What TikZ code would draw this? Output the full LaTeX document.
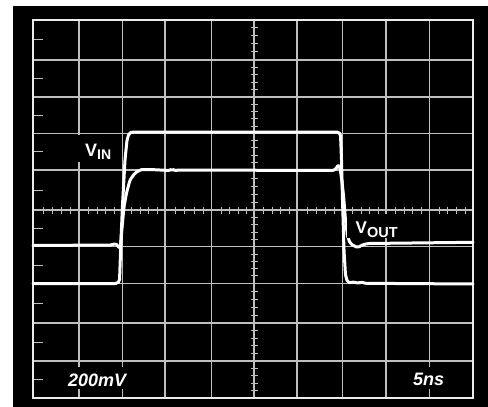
\documentclass[tikz,border=0pt]{standalone}
\usepackage{fontspec}
\setmainfont{Liberation Sans}
\definecolor{gridc}{RGB}{190,190,190}
\definecolor{framec}{RGB}{235,235,235}
\begin{document}
\begin{tikzpicture}[x=1pt,y=-1pt,
  gridline/.style={draw=gridc, line width=1.1pt},
  tickline/.style={draw=gridc, line width=1pt},
  frameline/.style={draw=framec, line width=2pt},
  trace/.style={draw=white, line width=3pt, line cap=round, line join=round, rounded corners=1.5pt},
  labelbox/.style={fill=black, inner sep=0pt, anchor=north west},
  lbl/.style={text=white, inner sep=0pt, anchor=base west, font=\bfseries}]
\useasboundingbox (0,0) rectangle (488,407);
\fill[white] (0,0) rectangle (488,407);
\fill[black] (12.7,6) rectangle (488,407);
% grid
\foreach \x in {79,122.3,165,211.7,297,342.7,386,429.3}
  \draw[gridline] (\x,19.5) -- (\x,398);
\foreach \y in {60,97,133.3,170,246.7,283.3,323,361}
  \draw[gridline] (33,\y) -- (473,\y);
\draw[gridline] (254,19.5) -- (254,398);
\draw[gridline] (33,210) -- (473,210);
% minor ticks on centre axes
\foreach \a/\b in {19.5/60,60/97,97/133.3,133.3/170,170/210,210/246.7,246.7/283.3,283.3/323,323/361,361/398}{
  \foreach \k in {1,2,3,4}
    \draw[tickline] (250.5,{\a+(\b-\a)*\k/5}) -- (257.5,{\a+(\b-\a)*\k/5});
  \draw[tickline] (34,{(\a+\b)/2}) -- (43,{(\a+\b)/2});
}
\foreach \a/\b in {33/79,79/122.3,122.3/165,165/211.7,211.7/254,254/297,297/342.7,342.7/386,386/429.3,429.3/473}
  \foreach \k in {1,2,3,4}
    \draw[tickline] ({\a+(\b-\a)*\k/5+1},206.5) -- ({\a+(\b-\a)*\k/5+1},213.5);
% frame
\draw[frameline] (33,19.5) rectangle (473,398);
% traces
\draw[trace] (33,283.5) -- (117,283.5) -- (119.5,281) -- (121,240) -- (122.5,205) -- (125,160) -- (127,140) -- (129,133.5) -- (132,132) -- (338.5,132) -- (340.5,134.5) -- (341.5,160) -- (342.5,200) -- (344,250) -- (345.5,275) -- (347.5,282) -- (351,283) -- (354,281.5) -- (357,283.5) -- (361,282) -- (365,283.3) -- (473,284);
\draw[trace] (33,245.5) -- (112,245) -- (115,243.5) -- (117.5,245) -- (119,248.5) -- (120.5,246) -- (122,228) -- (124,207) -- (126.5,193) -- (130,180) -- (135,173) -- (141,169.5) -- (150,169.5) -- (170,170.5) -- (172,169) -- (174,170.5) -- (180,170) -- (334,170.5) -- (336.5,168) -- (338.5,164.5) -- (340,168) -- (341.5,178) -- (343.5,195) -- (345.5,220) -- (347.5,236) -- (350,243) -- (354,246) -- (358,247.5) -- (362,245) -- (368,243.5) -- (473,242.3);
% label boxes
\node[labelbox, minimum width=44pt, minimum height=27pt] (vinbox) at (72,135) {};
\node[labelbox, minimum width=60pt, minimum height=24pt] (voutbox) at (347,214) {};
\node[labelbox, minimum width=76pt, minimum height=22pt] (vdivbox) at (62,367) {};
\node[labelbox, minimum width=44pt, minimum height=22pt] (tdivbox) at (408,367) {};
% labels
\node[lbl] (vin) at (85,156.7) {\fontsize{18}{18}\selectfont V\raisebox{-2.7pt}{\fontsize{14}{14}\selectfont IN}};
\node[lbl] (vout) at (355.5,233.3) {\fontsize{17}{17}\selectfont V\raisebox{-4pt}{\fontsize{14.5}{14.5}\selectfont OUT}};
\node[lbl, font=\bfseries\itshape] (vdiv) at (68,386) {\fontsize{18}{18}\selectfont 200mV};
\node[lbl, font=\bfseries\itshape] (tdiv) at (413,385) {\fontsize{18}{18}\selectfont 5ns};
\end{tikzpicture}
\end{document}
